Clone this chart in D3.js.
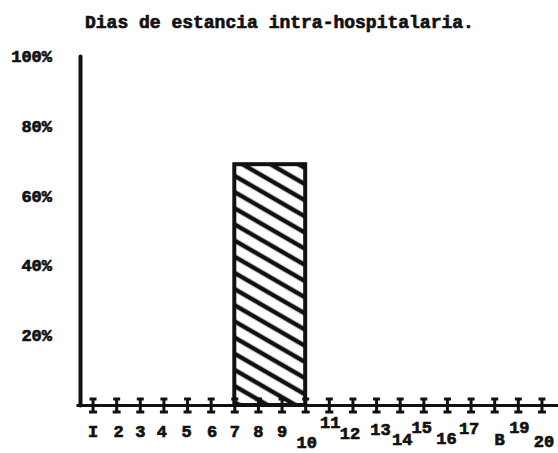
<!DOCTYPE html>
<html>
<head>
<meta charset="utf-8">
<title>Dias de estancia</title>
<style>
body {
    margin: 0px;
    overflow: hidden;
    background: #fff;
}
text {
    font-family: "Liberation Mono", "DejaVu Sans Mono", monospace;
    font-weight: bold;
    fill: #111;
    stroke: #111;
    stroke-width: 0.7px;
}
</style>
<script src="https://cdnjs.cloudflare.com/ajax/libs/d3/7.8.5/d3.min.js"></script>
</head>
<body>
<div id="chart"></div>
<script>

var title = "Dias de estancia intra-hospitalaria.";

// days on the x axis and their typed labels (18 came out as "B")
var days = [1, 2, 3, 4, 5, 6, 7, 8, 9, 10, 11, 12, 13, 14, 15, 16, 17, 18, 19, 20];
var dayLabels = ["I", "2", "3", "4", "5", "6", "7", "8", "9", "10",
                 "11", "12", "13", "14", "15", "16", "17", "B", "19", "20"];

// percent ticks
var pctTicks = [20, 40, 60, 80, 100];

// the one hatched bar: from day 7 to day 10
var barStart = [7];
var barEnd = [10];
var barValue = [69];

// typewriter jitter of the day labels [dx, dy]
var labelNudge = [[0,0],[2,0],[0,0],[-2,0],[-1,0],[1,0],[0,0],[0,0],[0,0],[1,11],
                  [1,-9],[-3,2],[4,-2],[2,8],[-2,-4],[-1,7],[-2,-3],[5,8],[1,-4],[2,10]];

var width = 558,
    height = 453;

var svg = d3.select("#chart").append("svg")
    .attr("width", width)
    .attr("height", height);

var x = d3.scaleLinear().domain([0.3, 20.7]).range([76, 558]);
var y = d3.scaleLinear().domain([0, 100]).range([405, 56]);

// hatch pattern
var pat = svg.append("defs").append("pattern")
    .attr("id", "hatch")
    .attr("patternUnits", "userSpaceOnUse")
    .attr("width", 14)
    .attr("height", 14)
    .attr("patternTransform", "rotate(30)");
pat.append("rect").attr("width", 14).attr("height", 14).attr("fill", "#fff");
pat.append("line")
    .attr("x1", 0).attr("x2", 14)
    .attr("y1", 7).attr("y2", 7)
    .attr("stroke", "#111")
    .attr("stroke-width", 4.5);

// title
svg.append("text")
    .attr("x", 85)
    .attr("y", 28)
    .attr("font-size", 18)
    .text(title);

// bar
svg.selectAll(".bar")
    .data(barValue)
    .enter().append("rect")
    .attr("class", "bar")
    .attr("x", function (d, i) { return x(barStart[i]); })
    .attr("width", function (d, i) { return x(barEnd[i]) - x(barStart[i]); })
    .attr("y", function (d) { return y(d); })
    .attr("height", function (d) { return y(0) - y(d); })
    .attr("fill", "url(#hatch)")
    .attr("stroke", "#111")
    .attr("stroke-width", 4);

// y axis
var yAxis = svg.append("g")
    .attr("transform", "translate(80,0)")
    .call(d3.axisLeft(y)
        .tickValues(pctTicks)
        .tickSize(0)
        .tickSizeOuter(0)
        .tickPadding(28)
        .tickFormat(function (d) { return d + "%"; }));
yAxis.attr("font-family", null);
yAxis.select(".domain")
    .attr("stroke", "#111")
    .attr("stroke-width", 4)
    .attr("stroke-linecap", "round");
yAxis.selectAll("text")
    .attr("font-size", 17)
    .attr("fill", null);

// x axis
var xAxis = svg.append("g")
    .attr("transform", "translate(0," + y(0) + ")")
    .call(d3.axisBottom(x)
        .tickValues(days)
        .tickSize(0)
        .tickSizeOuter(0)
        .tickPadding(21)
        .tickFormat(function (d, i) { return dayLabels[i]; }));
xAxis.attr("font-family", null);
xAxis.select(".domain")
    .attr("stroke", "#111")
    .attr("stroke-width", 3);

// I-shaped tick marks
xAxis.selectAll(".tick").append("path")
    .attr("d", "M-3.5,-6H3.5M0,-6V7M-4,7H4")
    .attr("fill", "none")
    .attr("stroke", "#111")
    .attr("stroke-width", 3);

xAxis.selectAll(".tick text")
    .attr("font-size", 17)
    .attr("fill", null)
    .attr("dx", function (d, i) { return labelNudge[i][0]; })
    .attr("y", function (d, i) { return 20 + labelNudge[i][1]; });

</script>
</body>
</html>
